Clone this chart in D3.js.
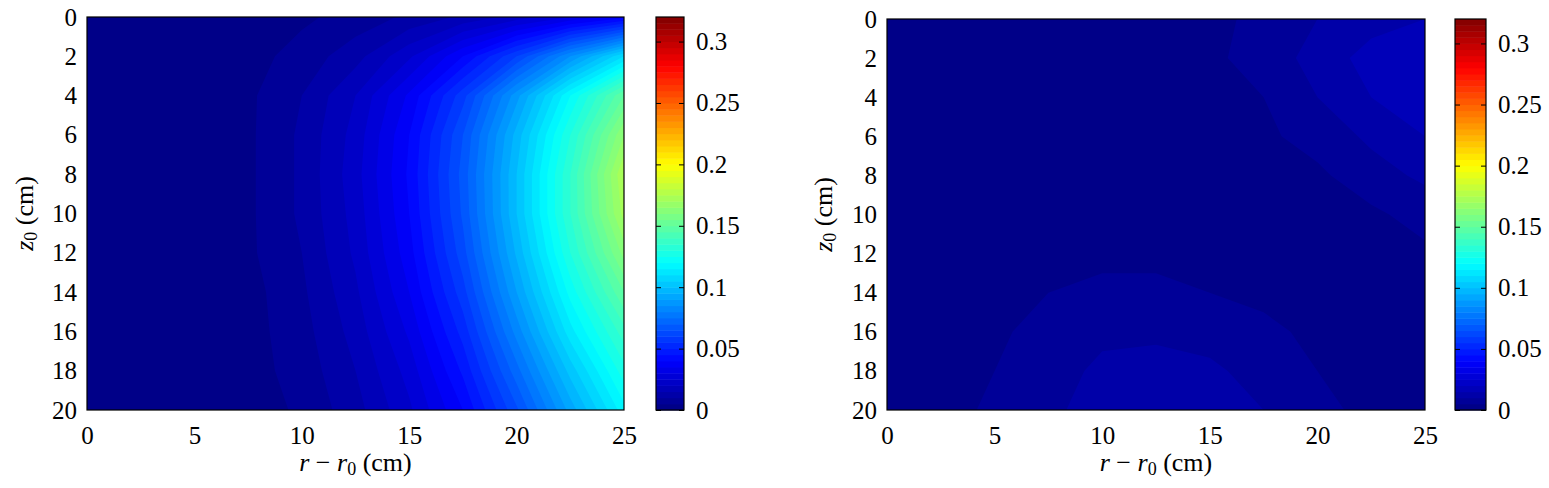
<!DOCTYPE html>
<html>
<head>
<meta charset="utf-8">
<script src="https://cdn.jsdelivr.net/npm/d3@7"></script>
<style>
  body { margin: 0; background: #fff; }
  svg { display: block; font-family: "Liberation Serif", "Times New Roman", serif; }
  .tick text { font-family: "Liberation Serif", "Times New Roman", serif; font-size: 25px; fill: #000; }
</style>
</head>
<body>
<svg id="chart" width="1549" height="488"></svg>
<script>
// grid positions (cm)
const rValues = [0, 2.5, 5, 7.5, 10, 12.5, 15, 17.5, 20, 22.5, 25];
const zValues = [0, 2, 4, 6, 8, 10, 12, 14, 16, 18, 20];

// left map, one row per z value
const leftValues = [
  [0, 0, 0.000, 0.002, 0.004, 0.007, 0.011, 0.016, 0.022, 0.030, 0.038],
  [0, 0, 0.001, 0.003, 0.007, 0.013, 0.024, 0.040, 0.060, 0.085, 0.110],
  [0, 0, 0.001, 0.004, 0.010, 0.020, 0.036, 0.058, 0.088, 0.120, 0.150],
  [0, 0, 0.001, 0.004, 0.011, 0.022, 0.040, 0.065, 0.097, 0.130, 0.165],
  [0, 0, 0.001, 0.004, 0.011, 0.023, 0.041, 0.067, 0.100, 0.135, 0.175],
  [0, 0, 0.001, 0.004, 0.011, 0.022, 0.040, 0.066, 0.100, 0.135, 0.172],
  [0, 0, 0.001, 0.004, 0.010, 0.021, 0.038, 0.063, 0.096, 0.130, 0.162],
  [0, 0, 0.001, 0.003, 0.009, 0.019, 0.035, 0.058, 0.090, 0.122, 0.150],
  [0, 0, 0.001, 0.003, 0.008, 0.017, 0.031, 0.052, 0.082, 0.113, 0.138],
  [0, 0, 0.001, 0.003, 0.007, 0.015, 0.027, 0.046, 0.073, 0.102, 0.128],
  [0, 0, 0.001, 0.002, 0.006, 0.013, 0.024, 0.040, 0.064, 0.092, 0.118]
];

// right map
const rightValues = [
  [0.003, 0.003, 0.003, 0.003, 0.003, 0.003, 0.004, 0.006, 0.010, 0.013, 0.015],
  [0.003, 0.003, 0.003, 0.003, 0.003, 0.003, 0.004, 0.007, 0.012, 0.017, 0.020],
  [0.003, 0.003, 0.003, 0.003, 0.003, 0.003, 0.003, 0.005, 0.010, 0.015, 0.019],
  [0.003, 0.003, 0.003, 0.003, 0.003, 0.003, 0.003, 0.004, 0.007, 0.011, 0.015],
  [0.003, 0.003, 0.003, 0.003, 0.003, 0.003, 0.003, 0.003, 0.004, 0.008, 0.011],
  [0.003, 0.003, 0.003, 0.003, 0.003, 0.003, 0.003, 0.003, 0.003, 0.004, 0.007],
  [0.003, 0.003, 0.003, 0.004, 0.004, 0.004, 0.004, 0.003, 0.003, 0.003, 0.004],
  [0.003, 0.003, 0.004, 0.005, 0.006, 0.006, 0.005, 0.004, 0.003, 0.003, 0.003],
  [0.003, 0.003, 0.004, 0.007, 0.009, 0.009, 0.008, 0.006, 0.004, 0.003, 0.003],
  [0.003, 0.003, 0.005, 0.008, 0.011, 0.012, 0.011, 0.008, 0.005, 0.004, 0.003],
  [0.003, 0.003, 0.006, 0.009, 0.012, 0.013, 0.012, 0.010, 0.006, 0.004, 0.003]
];

const xTicks = [0, 5, 10, 15, 20, 25];
const yTicks = [0, 2, 4, 6, 8, 10, 12, 14, 16, 18, 20];
const cbTicks = [0, 0.05, 0.1, 0.15, 0.2, 0.25, 0.3];
const cbMax = 0.32;
const nLevels = 64;

const panels = [
  {values: leftValues, left: 87, right: 624, top: 17, bottom: 410, cbLeft: 656, cbRight: 684, yTitleX: 24},
  {values: rightValues, left: 887, right: 1425, top: 19, bottom: 410, cbLeft: 1455, cbRight: 1486, yTitleX: 823}
];

const svg = d3.select("#chart");
const step = cbMax / nLevels;

// matlab style jet colormap
const jet = d3.scaleLinear()
  .domain([0, 0.125, 0.375, 0.625, 0.875, 1].map(t => t * cbMax))
  .range(["#000080", "#0000ff", "#00ffff", "#ffff00", "#ff0000", "#800000"])
  .clamp(true);

const thresholds = d3.range(nLevels).map(k => k * step);

panels.forEach((p, i) => {
  const x = d3.scaleLinear().domain([0, 25]).range([p.left, p.right]);
  const y = d3.scaleLinear().domain([0, 20]).range([p.top, p.bottom]);
  // contour grid coords -> data coords
  const gx = d3.scaleLinear().domain([0.5, rValues.length - 0.5]).range([rValues[0], rValues[rValues.length - 1]]);
  const gy = d3.scaleLinear().domain([0.5, zValues.length - 0.5]).range([zValues[0], zValues[zValues.length - 1]]);
  const path = d3.geoPath(d3.geoTransform({
    point(px, py) { this.stream.point(x(gx(px)), y(gy(py))); }
  }));

  svg.append("clipPath").attr("id", "clip" + i)
    .append("rect")
    .attr("x", p.left).attr("y", p.top)
    .attr("width", p.right - p.left).attr("height", p.bottom - p.top);

  const bands = d3.contours()
    .size([rValues.length, zValues.length])
    .thresholds(thresholds)(p.values.flat());

  svg.append("g").attr("clip-path", `url(#clip${i})`)
    .selectAll("path")
    .data(bands)
    .join("path")
    .attr("d", path)
    .attr("fill", d => jet(d.value + step / 2));

  // frame
  svg.append("rect")
    .attr("x", p.left).attr("y", p.top)
    .attr("width", p.right - p.left).attr("height", p.bottom - p.top)
    .attr("fill", "none").attr("stroke", "#000").attr("stroke-width", 1.2);

  // axes
  svg.append("g")
    .attr("transform", `translate(0,${p.bottom})`)
    .call(d3.axisBottom(x).tickValues(xTicks).tickSize(0).tickPadding(16))
    .call(g => g.select(".domain").remove());
  svg.append("g")
    .attr("transform", `translate(${p.left},0)`)
    .call(d3.axisLeft(y).tickValues(yTicks).tickSize(0).tickPadding(10))
    .call(g => g.select(".domain").remove());

  // x title: r − r0 (cm)
  const xt = svg.append("text")
    .attr("x", (p.left + p.right) / 2).attr("y", 471)
    .attr("text-anchor", "middle").attr("font-size", 26);
  xt.append("tspan").attr("font-style", "italic").text("r");
  xt.append("tspan").text(" − ");
  xt.append("tspan").attr("font-style", "italic").text("r");
  xt.append("tspan").attr("font-size", 18).attr("dy", 4).text("0");
  xt.append("tspan").attr("dy", -4).text(" (cm)");

  // y title: z0 (cm)
  const yt = svg.append("text")
    .attr("transform", `translate(${p.yTitleX},${(p.top + p.bottom) / 2}) rotate(-90)`)
    .attr("text-anchor", "middle").attr("dy", "0.35em").attr("font-size", 26);
  yt.append("tspan").attr("font-style", "italic").text("z");
  yt.append("tspan").attr("font-size", 18).attr("dy", 4).text("0");
  yt.append("tspan").attr("dy", -4).text(" (cm)");

  // colorbar
  const cb = d3.scaleLinear().domain([0, cbMax]).range([p.bottom, p.top]);
  svg.append("g").selectAll("rect")
    .data(thresholds)
    .join("rect")
    .attr("x", p.cbLeft)
    .attr("y", d => cb(d + step))
    .attr("width", p.cbRight - p.cbLeft)
    .attr("height", d => cb(d) - cb(d + step) + 0.5)
    .attr("fill", d => jet(d + step / 2));
  svg.append("rect")
    .attr("x", p.cbLeft).attr("y", p.top)
    .attr("width", p.cbRight - p.cbLeft).attr("height", p.bottom - p.top)
    .attr("fill", "none").attr("stroke", "#000").attr("stroke-width", 1.2);
  svg.append("g")
    .attr("transform", `translate(${p.cbRight},0)`)
    .call(d3.axisRight(cb).tickValues(cbTicks).tickFormat(d3.format("~g")).tickSize(-5).tickPadding(12))
    .call(g => g.select(".domain").remove());
  svg.append("g")
    .attr("transform", `translate(${p.cbLeft},0)`)
    .call(d3.axisLeft(cb).tickValues(cbTicks).tickFormat("").tickSize(-5))
    .call(g => g.select(".domain").remove());
});
</script>
</body>
</html>
